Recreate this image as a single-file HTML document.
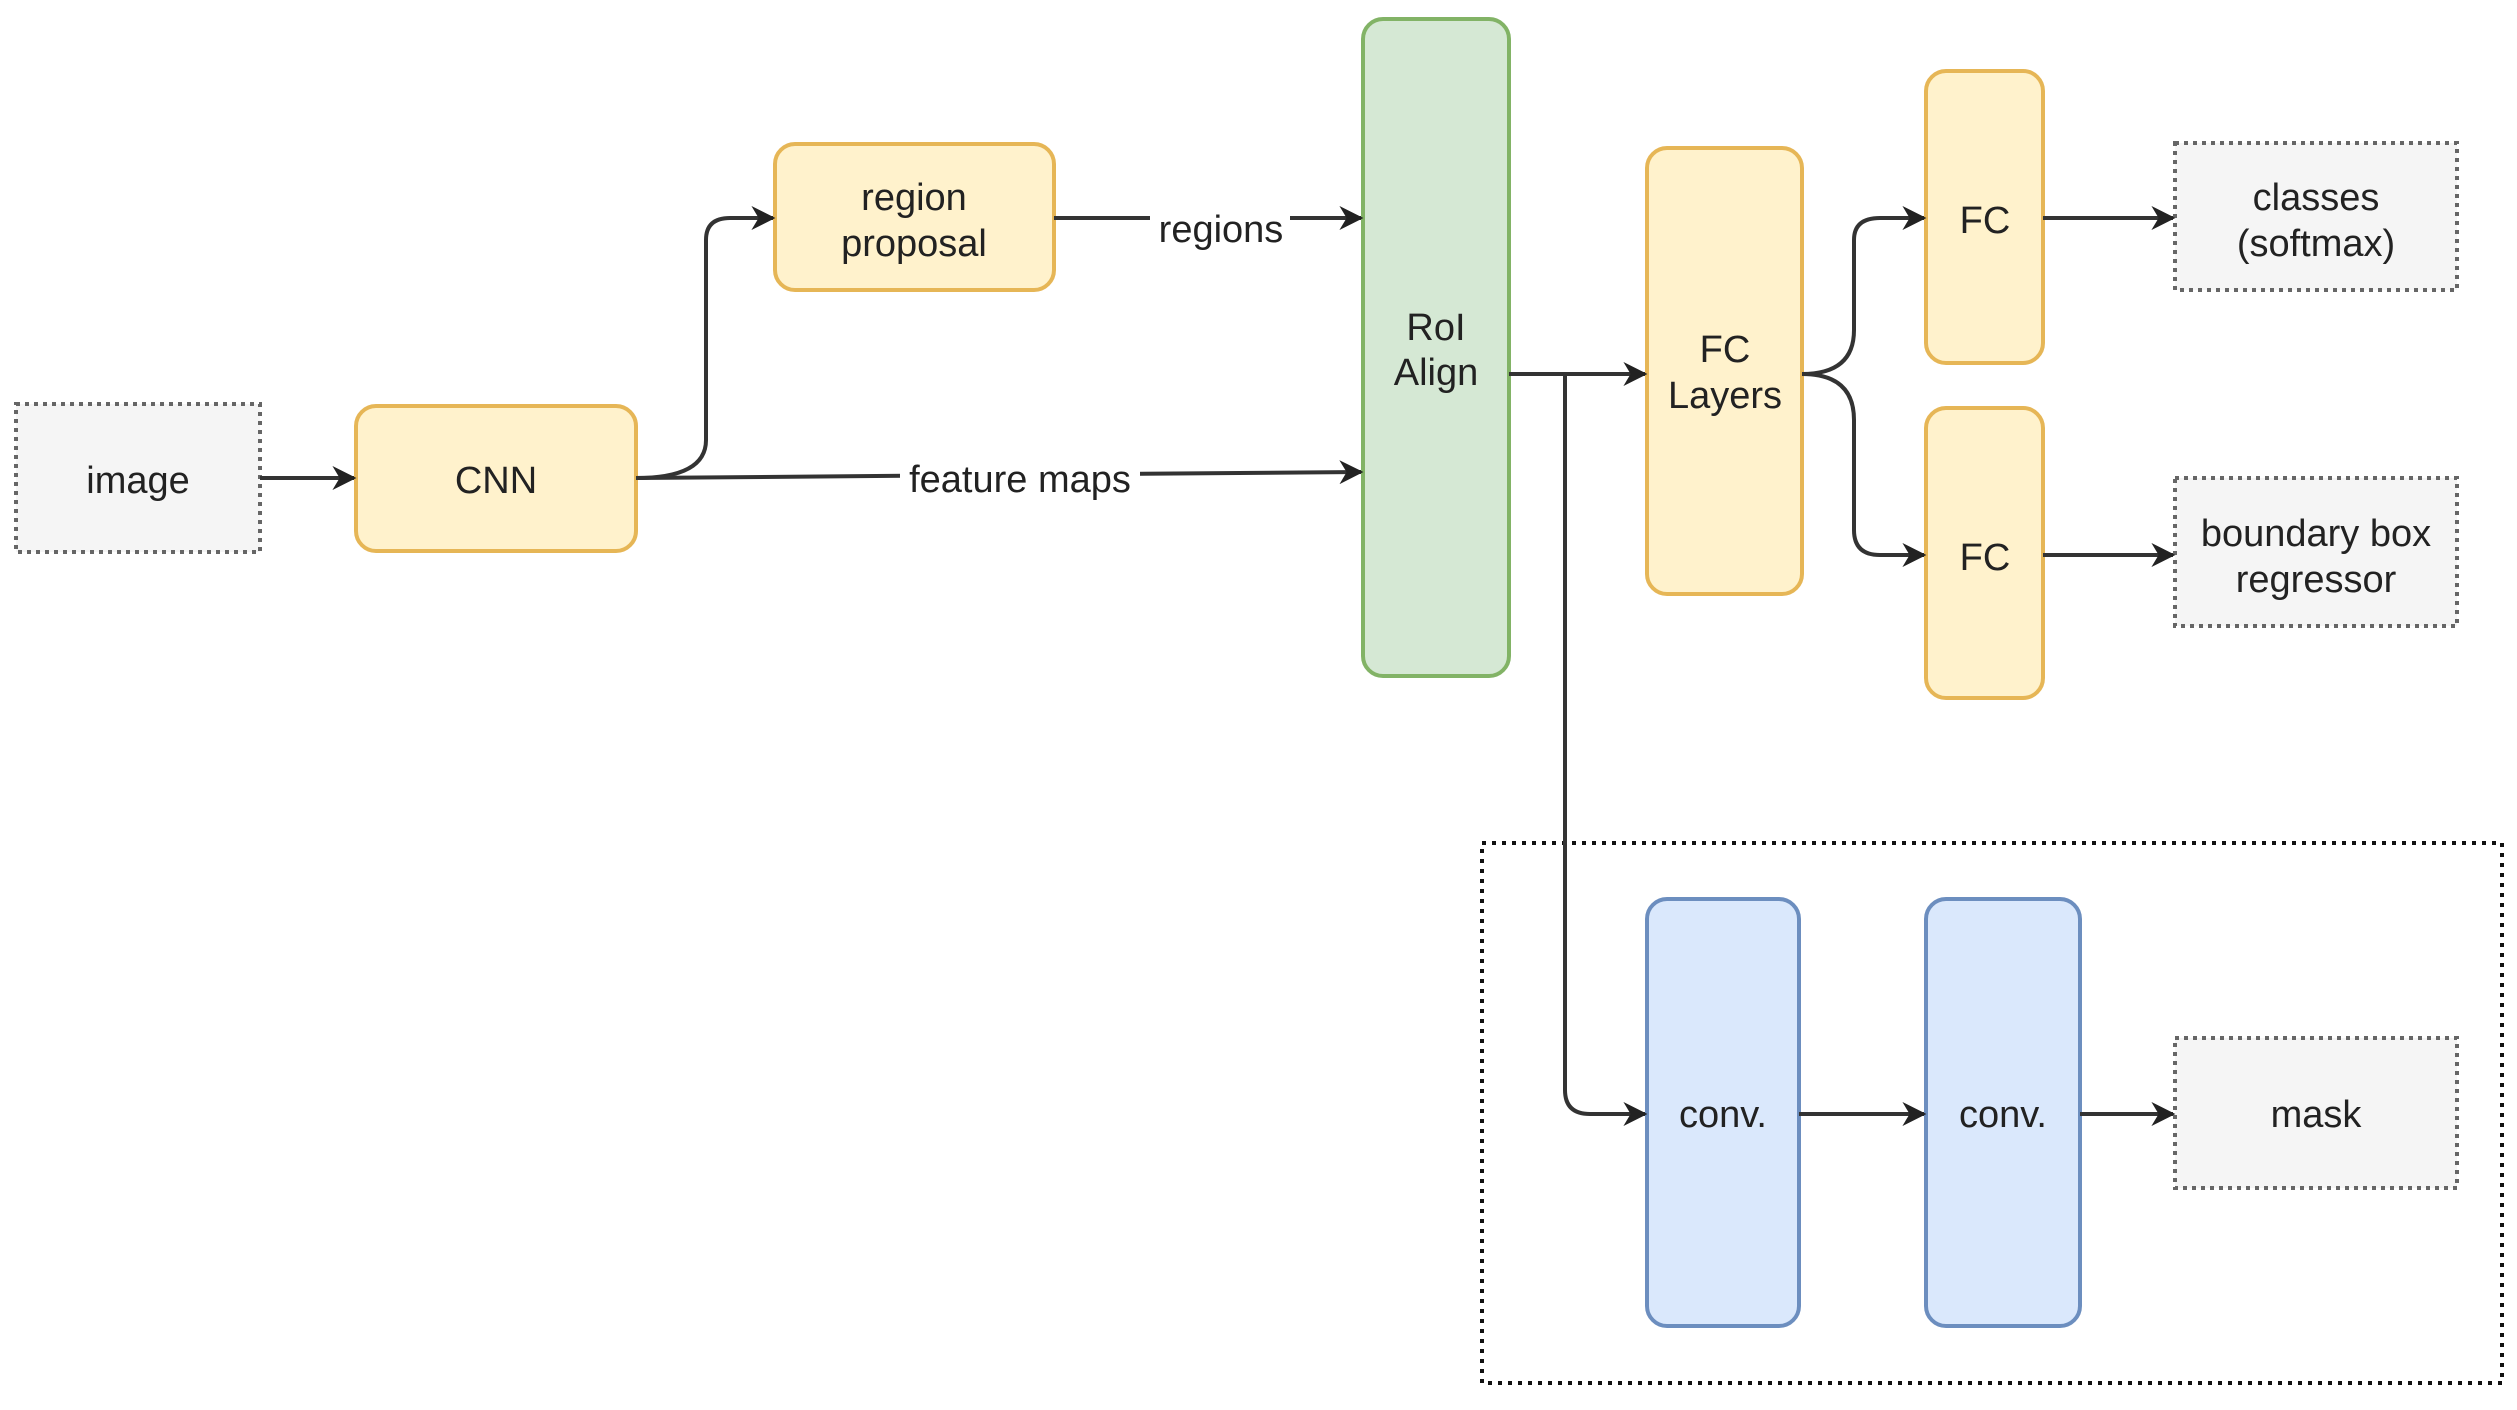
<!DOCTYPE html>
<html><head><style>
body{margin:0;background:#fff;}
svg text{font-family:"Liberation Sans",sans-serif;font-size:38px;fill:#222;text-anchor:middle;}
</style></head><body>
<svg width="2517" height="1405" xmlns="http://www.w3.org/2000/svg">
<defs><marker id="a" markerWidth="10" markerHeight="10" refX="9" refY="5" orient="auto" markerUnits="userSpaceOnUse" viewBox="0 0 10 10"><path d="M0,0 L10,5 L0,10 L3,5z" fill="#222"/></marker>
<marker id="b" viewBox="0 0 10 10" refX="9" refY="5" markerWidth="24" markerHeight="24" markerUnits="userSpaceOnUse" orient="auto"><path d="M0,0 L10,5 L0,10 L3,5z" fill="#222"/></marker></defs>
<g stroke-width="4" fill="none">
<rect x="1482" y="843" width="1020" height="540" stroke="#111" stroke-dasharray="4 6"/>
</g>
<!-- boxes -->
<g stroke-width="4">
<rect x="16" y="404" width="244" height="148" fill="#f5f5f5" stroke="#666" stroke-dasharray="4 5"/>
<rect x="2175" y="143" width="282" height="147" fill="#f5f5f5" stroke="#666" stroke-dasharray="4 5"/>
<rect x="2175" y="478" width="282" height="148" fill="#f5f5f5" stroke="#666" stroke-dasharray="4 5"/>
<rect x="2175" y="1038" width="282" height="150" fill="#f5f5f5" stroke="#666" stroke-dasharray="4 5"/>
<rect x="356" y="406" width="280" height="145" rx="20" fill="#fff2cc" stroke="#e6b656"/>
<rect x="775" y="144" width="279" height="146" rx="20" fill="#fff2cc" stroke="#e6b656"/>
<rect x="1363" y="19" width="146" height="657" rx="20" fill="#d5e8d4" stroke="#82b366"/>
<rect x="1647" y="148" width="155" height="446" rx="20" fill="#fff2cc" stroke="#e6b656"/>
<rect x="1926" y="71" width="117" height="292" rx="20" fill="#fff2cc" stroke="#e6b656"/>
<rect x="1926" y="408" width="117" height="290" rx="20" fill="#fff2cc" stroke="#e6b656"/>
<rect x="1647" y="899" width="152" height="427" rx="20" fill="#dae8fc" stroke="#6c8ebf"/>
<rect x="1926" y="899" width="154" height="427" rx="20" fill="#dae8fc" stroke="#6c8ebf"/>
</g>
<!-- connectors -->
<g stroke="#333" stroke-width="4" fill="none" marker-end="url(#b)">
<path d="M260 478 H354"/>
<path d="M636 478 Q706 478 706 440 V240 Q706 218 730 218 H773"/>
<path d="M636 478 L1361 472"/>
<path d="M1054 218 H1361"/>
<path d="M1509 374 H1645"/>
<path d="M1565 374 V1090 Q1565 1114 1590 1114 H1645"/>
<path d="M1802 374 Q1854 374 1854 330 V240 Q1854 218 1880 218 H1924"/>
<path d="M1802 374 Q1854 374 1854 420 V530 Q1854 555 1880 555 H1924"/>
<path d="M2043 218 H2173"/>
<path d="M2043 555 H2173"/>
<path d="M1799 1114 H1924"/>
<path d="M2080 1114 H2173"/>
</g>
<!-- edge labels -->
<rect x="1150" y="200" width="140" height="40" fill="#fff"/>
<text x="1221" y="242">regions</text>
<rect x="900" y="455" width="240" height="40" fill="#fff"/>
<text x="1020" y="492">feature maps</text>
<text x="138" y="493">image</text>
<text x="496" y="493">CNN</text>
<text x="914" y="210">region</text>
<text x="914" y="256">proposal</text>
<text x="1436" y="340">RoI</text>
<text x="1436" y="385">Align</text>
<text x="1725" y="362">FC</text>
<text x="1725" y="408">Layers</text>
<text x="1985" y="233">FC</text>
<text x="1985" y="570">FC</text>
<text x="2316" y="210">classes</text>
<text x="2316" y="256">(softmax)</text>
<text x="2316" y="546">boundary box</text>
<text x="2316" y="592">regressor</text>
<text x="2316" y="1127">mask</text>
<text x="1723" y="1127">conv.</text>
<text x="2003" y="1127">conv.</text>
</svg>
</body></html>
